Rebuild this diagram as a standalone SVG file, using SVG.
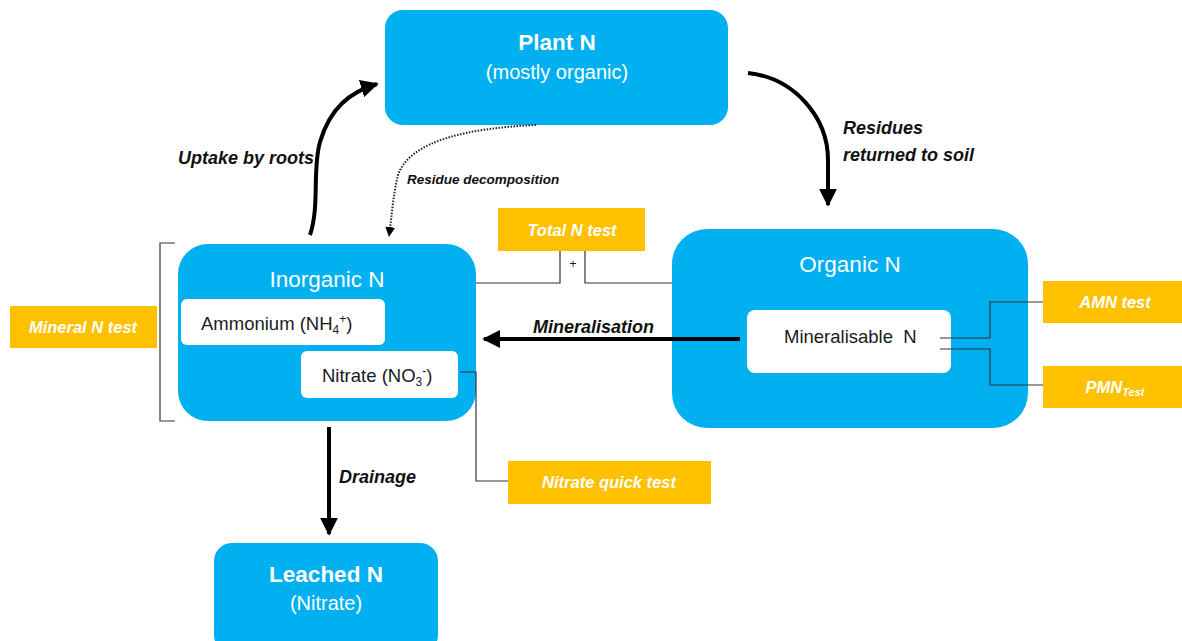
<svg xmlns="http://www.w3.org/2000/svg" width="1182" height="641" viewBox="0 0 1182 641">
<defs>
<style>
.blue{fill:#00B0F0}
.white{fill:#FFFFFF}
.orange{fill:#FFC000}
.t{font-family:"Liberation Sans",Arial,sans-serif}
.title{font-size:22.5px;fill:#FFFFFF;text-anchor:middle}
.bold{font-weight:bold}
.sub{font-size:20px;fill:#FFFFFF;text-anchor:middle}
.inner{font-size:18.5px;fill:#1a1a1a}
.test{font-size:16.5px;font-weight:bold;font-style:italic;fill:#FFFFFF;text-anchor:middle}
.lbl{font-size:18px;font-weight:bold;font-style:italic;fill:#111}
.thin{fill:none;stroke:#333;stroke-width:1.2}
.thick{fill:none;stroke:#000;stroke-width:4}
</style>
<marker id="ah" viewBox="0 0 10 10" refX="9" refY="5" markerWidth="4.5" markerHeight="4.5" markerUnits="strokeWidth" orient="auto">
<path d="M0,0 L10,5 L0,10 z" fill="#000"/>
</marker>
<marker id="ahs" viewBox="0 0 10 10" refX="9" refY="5" markerWidth="10" markerHeight="10" markerUnits="userSpaceOnUse" orient="auto">
<path d="M0,0 L10,5 L0,10 z" fill="#000"/>
</marker>
</defs>
<rect width="1182" height="641" fill="#FFFFFF"/>

<g id="plant">
<rect class="blue" x="385" y="10" width="343" height="115" rx="18"/>
<text class="t title bold" x="557" y="50">Plant N</text>
<text class="t sub" x="557" y="79">(mostly organic)</text>
</g>

<g id="inorganic">
<rect class="blue" x="178" y="244" width="298" height="177" rx="30"/>
<text class="t title" x="327" y="287">Inorganic N</text>
</g>
<g id="ammonium">
<rect class="white" x="181" y="299" width="204" height="46" rx="6"/>
<text class="t inner" x="201" y="330">Ammonium (NH<tspan font-size="12" dy="4">4</tspan><tspan font-size="12" dy="-11">+</tspan><tspan dy="7">)</tspan></text>
</g>
<g id="nitrate">
<rect class="white" x="301" y="351" width="157" height="47" rx="6"/>
<text class="t inner" x="322" y="382">Nitrate (NO<tspan font-size="12" dy="4">3</tspan><tspan font-size="12" dy="-11">-</tspan><tspan dy="7">)</tspan></text>
</g>

<g id="organic">
<rect class="blue" x="672" y="229" width="356" height="199" rx="35"/>
<text class="t title" x="850" y="272">Organic N</text>
</g>
<g id="mineralisable">
<rect class="white" x="747" y="310" width="204" height="63" rx="8"/>
<text class="t inner" x="784" y="343" xml:space="preserve">Mineralisable  N</text>
</g>

<g id="leached">
<rect class="blue" x="214" y="543" width="224" height="110" rx="18"/>
<text class="t title bold" x="326" y="582" font-size="22">Leached N</text>
<text class="t sub" x="326" y="610" font-size="18.5">(Nitrate)</text>
</g>

<g id="totaltest">
<rect class="orange" x="498" y="208" width="147" height="43"/>
<text class="t test" x="572" y="236">Total N test</text>
</g>
<g id="mineraltest">
<rect class="orange" x="10" y="306" width="147" height="42"/>
<text class="t test" x="83" y="333">Mineral N test</text>
</g>
<g id="amntest">
<rect class="orange" x="1043" y="281" width="139" height="42"/>
<text class="t test" x="1115" y="308">AMN test</text>
</g>
<g id="pmntest">
<rect class="orange" x="1043" y="366" width="139" height="42"/>
<text class="t test" x="1115" y="393">PMN<tspan font-size="11" dy="3">Test</tspan></text>
</g>
<g id="nitratetest">
<rect class="orange" x="508" y="461" width="203" height="43"/>
<text class="t test" x="609" y="488">Nitrate quick test</text>
</g>

<g id="connectors">
<path class="thick" d="M310,235 C320,205 312,170 320,142 C330,108 350,92 377,84" marker-end="url(#ah)"/>
<path d="M536,125 C470,128 410,140 398,175 C393,195 392,215 389,236" fill="none" stroke="#222" stroke-width="2" stroke-dasharray="1.5,1.5" marker-end="url(#ahs)"/>
<path class="thick" d="M748,73 C795,78 828,118 828,160 L828,205" marker-end="url(#ah)"/>
<path class="thick" d="M740,339 L484,339" marker-end="url(#ah)"/>
<path class="thick" d="M329,427 L329,534" marker-end="url(#ah)"/>
<path class="thin" d="M476,283 L560,283 L560,251"/>
<path class="thin" d="M585,251 L585,283 L672,283"/>
<path class="thin" d="M175,243 L160,243 L160,421 L175,421" stroke="#777"/>
<path class="thin" d="M460,372 L476,372 L476,481 L508,481"/>
<path class="thin" d="M940,338 L990,338 L990,302 L1043,302"/>
<path class="thin" d="M940,349 L990,349 L990,385 L1043,385"/>
</g>

<g id="labels">
<text class="t lbl" x="178" y="164">Uptake by roots</text>
<text class="t" x="407" y="184" font-size="13.5" font-weight="bold" font-style="italic" fill="#111">Residue decomposition</text>
<text class="t lbl" x="843" y="134">Residues</text>
<text class="t lbl" x="843" y="161">returned to soil</text>
<text class="t lbl" x="533" y="333">Mineralisation</text>
<text class="t lbl" x="339" y="483">Drainage</text>
<text class="t" x="573" y="268" font-size="12" text-anchor="middle" fill="#111">+</text>
</g>
</svg>
